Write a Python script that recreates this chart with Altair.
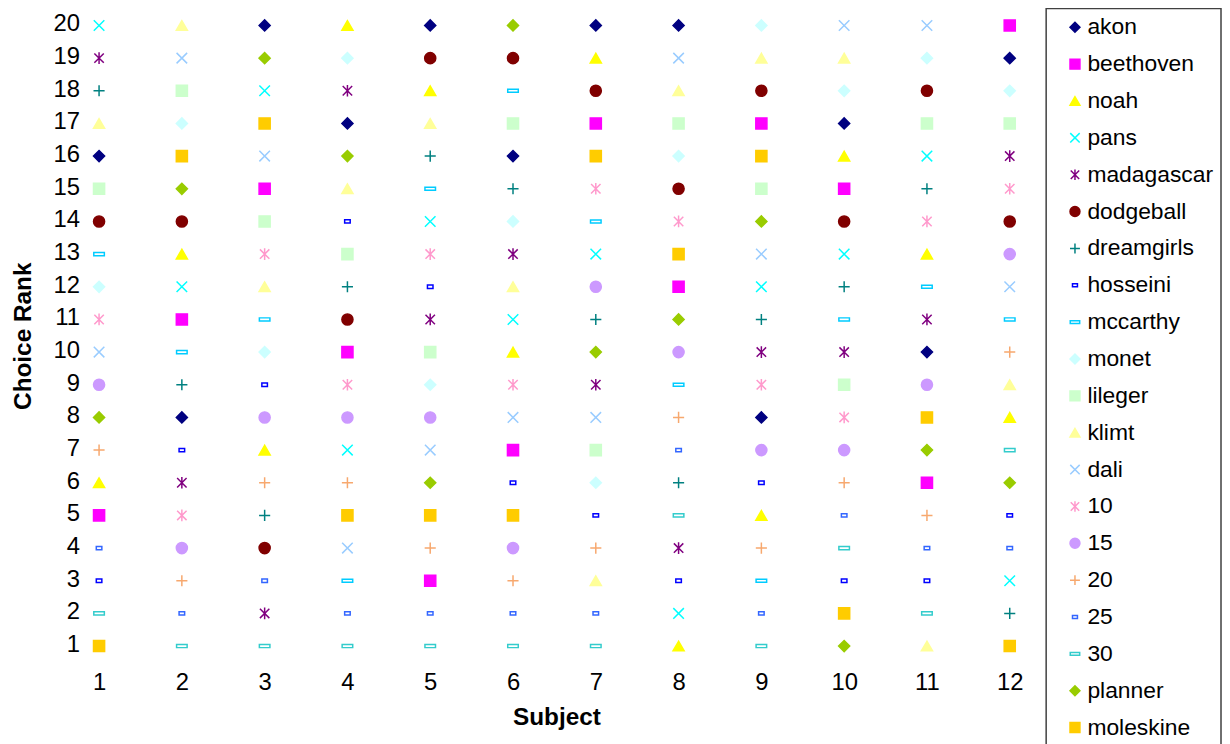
import altair as alt
import pandas as pd

subjects = list(range(1, 13))
ranks_axis = list(range(1, 21))

series_names = ["akon", "beethoven", "noah", "pans", "madagascar", "dodgeball",
                "dreamgirls", "hosseini", "mccarthy", "monet", "lileger", "klimt",
                "dali", "10", "15", "20", "25", "30", "planner", "moleskine"]

# choice rank of each series for subjects 1..12
akon = [16, 8, 20, 17, 20, 16, 20, 20, 8, 17, 10, 19]
beethoven = [5, 11, 15, 10, 3, 7, 17, 12, 17, 15, 6, 20]
noah = [6, 13, 7, 20, 18, 10, 19, 1, 5, 16, 13, 8]
pans = [20, 12, 18, 7, 14, 11, 13, 2, 12, 13, 16, 3]
madagascar = [19, 6, 2, 18, 11, 13, 9, 4, 10, 10, 11, 16]
dodgeball = [14, 14, 4, 11, 19, 19, 18, 15, 18, 14, 18, 14]
dreamgirls = [18, 9, 5, 12, 16, 15, 11, 6, 11, 12, 15, 2]
hosseini = [3, 7, 9, 14, 12, 6, 5, 3, 6, 3, 3, 5]
mccarthy = [13, 10, 11, 3, 15, 18, 14, 9, 3, 11, 12, 11]
monet = [12, 17, 10, 19, 9, 14, 6, 16, 20, 18, 19, 18]
lileger = [15, 18, 14, 13, 10, 17, 7, 17, 15, 9, 17, 17]
klimt = [17, 20, 12, 15, 17, 12, 3, 18, 19, 19, 1, 9]
dali = [10, 19, 16, 4, 7, 8, 8, 19, 13, 20, 20, 12]
s10 = [11, 5, 13, 9, 13, 9, 15, 14, 9, 8, 14, 15]
s15 = [9, 4, 8, 8, 8, 4, 12, 10, 7, 7, 9, 13]
s20 = [7, 3, 6, 6, 4, 3, 4, 8, 4, 6, 5, 10]
s25 = [4, 2, 3, 2, 2, 2, 2, 7, 2, 5, 4, 4]
s30 = [2, 1, 1, 1, 1, 1, 1, 5, 1, 4, 2, 7]
planner = [8, 15, 19, 16, 6, 20, 10, 11, 14, 1, 7, 6]
moleskine = [1, 16, 17, 5, 5, 5, 16, 13, 16, 2, 8, 1]

series_ranks = [akon, beethoven, noah, pans, madagascar, dodgeball, dreamgirls,
                hosseini, mccarthy, monet, lileger, klimt, dali, s10, s15, s20,
                s25, s30, planner, moleskine]

X_PATH = "M-0.95,-0.95L0.95,0.95M-0.95,0.95L0.95,-0.95"
AST_PATH = "M-0.85,-0.85L0.85,0.85M-0.85,0.85L0.85,-0.85M0,-1.05V1.05"
PLUS_PATH = "M-1,0H1M0,-1V1"
SMALL_RECT = "M-0.5,-0.3H0.5V0.3H-0.5Z"
DASH_RECT = "M-0.95,-0.28H0.95V0.28H-0.95Z"

series_strokes = ["#000080", "#FF00FF", "#FFFF00", "#00FFFF", "#800080", "#800000",
                  "#008080", "#0000FF", "#00CCFF", "#CCFFFF", "#CCFFCC", "#FFFF99",
                  "#99CCFF", "#FF99CC", "#CC99FF", "#F7A86E", "#3366FF", "#33CCCC",
                  "#99CC00", "#FFCC00"]
series_fills = ["#000080", "#FF00FF", "#FFFF00", "transparent", "transparent", "#800000",
                "transparent", "white", "white", "#CCFFFF", "#CCFFCC", "#FFFF99",
                "transparent", "transparent", "#CC99FF", "transparent", "white", "white",
                "#99CC00", "#FFCC00"]
series_shapes = ["diamond", "square", "triangle-up", X_PATH, AST_PATH, "circle",
                 PLUS_PATH, SMALL_RECT, DASH_RECT, "diamond", "square", "triangle-up",
                 X_PATH, AST_PATH, "circle", PLUS_PATH, SMALL_RECT, DASH_RECT,
                 "diamond", "square"]

rows = []
for name, ranks in zip(series_names, series_ranks):
    for s, r in zip(subjects, ranks):
        rows.append({"series": name, "subject": s, "rank": r})
df = pd.DataFrame(rows)

FONT = "Liberation Sans"

legend = alt.Legend(
    title=None, orient="none", legendX=995, legendY=-4, direction="vertical",
    padding=7.5, strokeColor="#404040", fillColor="white",
    labelFont=FONT, labelFontSize=23, labelColor="black", labelLimit=300,
    rowPadding=13.1, symbolSize=100, symbolStrokeWidth=1.5,
    symbolOffset=10, labelOffset=1,
)

chart = alt.Chart(df).mark_point(opacity=1, strokeWidth=1.5, size=125).encode(
    x=alt.X("subject:Q",
            scale=alt.Scale(domain=[0.5, 12.5], nice=False, zero=False),
            axis=alt.Axis(values=subjects, title="Subject", labelBaseline="alphabetic",
                          labelPadding=31, titleBaseline="alphabetic", titleY=65.7,
                          titleX=502)),
    y=alt.Y("rank:Q",
            scale=alt.Scale(domain=[0.6, 20.4], nice=False, zero=False),
            axis=alt.Axis(values=ranks_axis, title="Choice Rank", offset=-22,
                          labelPadding=0, labelOffset=-1.5, titleBaseline="alphabetic",
                          titleX=-49, titleY=325.5, titleAngle=270)),
    shape=alt.Shape("series:N", scale=alt.Scale(domain=series_names, range=series_shapes),
                    legend=legend),
    fill=alt.Fill("series:N", scale=alt.Scale(domain=series_names, range=series_fills),
                  legend=legend),
    stroke=alt.Stroke("series:N", scale=alt.Scale(domain=series_names, range=series_strokes),
                      legend=legend),
).properties(
    width=1000, height=651,
    autosize=alt.AutoSizeParams(type="none"),
    padding={"left": 50, "top": 2, "right": 172, "bottom": 83},
).configure_view(stroke=None).configure_axis(
    grid=False, domain=False, ticks=False, tickSize=0,
    labelFont=FONT, labelFontSize=24, labelColor="black",
    titleFont=FONT, titleFontSize=24.5, titleFontWeight="bold", titleColor="black",
).configure_legend(strokeWidth=1.5)

chart.save("out.html", embed_options={"renderer": "svg", "actions": False})
